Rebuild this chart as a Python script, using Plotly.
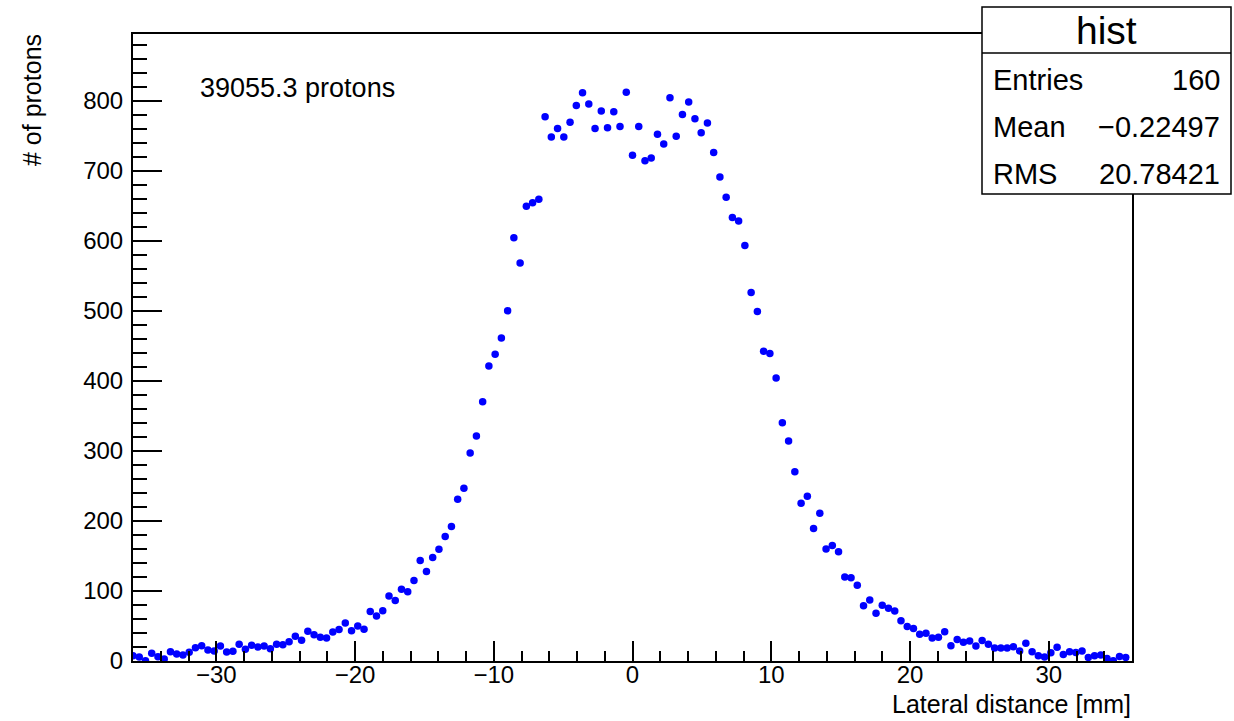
import numpy as np
import plotly.graph_objects as go

# ---- data -------------------------------------------------------------
# 160 entries on a 0.45 mm grid from -36 mm
bin_start = -36.0
bin_width = 0.45
protons = [
    # left tail
    7.6, 5.7, 0.5, 11, 6.2, 2.9, 13.3, 10, 8.6, 12.4,
    19, 21.9, 15.7, 14.3, 21.4, 12.9, 13.8, 23.8, 16.7, 22.4,
    20, 21.4, 17.6, 23.8, 23.3, 27.6, 35.2, 29.5, 42.4, 37.6,
    33.8, 32.9, 41.4, 44.8, 54.3, 43.3, 50, 45.2, 70.5, 64.3,
    71.9, 92.9, 86.2, 102.4, 99, 114.8, 143.3, 127.6, 147.6, 159.5,
    177.6, 191.9, 231, 246.7,
    # rising edge and plateau
    297, 321, 370, 421, 438, 461, 500, 604, 568, 649,
    654, 659, 777, 748, 760, 748, 769, 793, 811, 795,
    760, 785, 761, 784, 763, 812,
    722, 763, 714, 718, 752, 738, 804, 749, 780, 798,
    774, 754, 768, 726, 691, 662, 633, 628, 593, 526,
    499, 442, 439, 404, 340, 314, 270, 225, 235, 189,
    211, 160, 165, 156, 120, 119, 108,
    # right tail
    78.7, 86.9, 68.1, 79.6, 75.3, 71.4, 57.6, 49.3, 46.4, 38.3,
    39.7, 33, 34, 41.6, 21.9, 30.6, 26.7, 28.6, 21.4, 29.1,
    23.9, 18.6, 18.6, 18.6, 20.4, 14.3, 25.3, 13.3, 7.4, 5.6,
    11.9, 19.6, 9.4, 13.3, 12.3, 14.3, 5.1, 7.4, 8.4, 3.6,
    0.3, 6.6, 5.1,
]
positions = bin_start + bin_width * np.arange(len(protons))

x_tick_vals = [-30, -20, -10, 0, 10, 20, 30]
y_tick_vals = [0, 100, 200, 300, 400, 500, 600, 700, 800]

total_label = "39055.3 protons"
stats_title = "hist"
stats_rows = [("Entries", "160"), ("Mean", "\u22120.22497"), ("RMS", "20.78421")]
x_title = "Lateral distance [mm]"
y_title = "# of protons"

# ---- figure -----------------------------------------------------------
FONT = "Liberation Sans, Arial, Helvetica, sans-serif"
W, H = 1234, 721
L, R, T, B = 133, 102, 34, 60
PW, PH = W - L - R, H - T - B


def px2x(px):
    return (px - L) / PW


def py2y(py):
    return (H - B - py) / PH


fig = go.Figure()
fig.add_trace(go.Scatter(
    x=positions, y=protons, mode="markers",
    marker=dict(color="#0000ff", size=7.5, line=dict(width=0)),
    showlegend=False, hoverinfo="x+y",
))

axis_common = dict(
    showgrid=False, zeroline=False, showline=True, linecolor="black",
    linewidth=2, mirror=True, ticks="inside", tickcolor="black",
    tickwidth=1.5, tickfont=dict(family=FONT, size=24, color="black"),
)

fig.update_xaxes(
    range=[-36, 36], tickmode="array", tickvals=x_tick_vals,
    ticklen=20, ticklabelstandoff=-9,
    minor=dict(dtick=2, tick0=0, ticklen=10, ticks="inside",
               tickcolor="black", tickwidth=1.5, showgrid=False),
    **axis_common,
)
fig.update_yaxes(
    range=[0, 895], tickmode="array", tickvals=y_tick_vals,
    ticklen=29, ticklabelstandoff=3,
    minor=dict(dtick=20, tick0=0, ticklen=14, ticks="inside",
               tickcolor="black", tickwidth=1.5, showgrid=False),
    **axis_common,
)

annotations = [
    dict(text=total_label, x=px2x(199), y=py2y(88), xanchor="left",
         yanchor="middle", font=dict(family=FONT, size=27, color="black")),
    dict(text=x_title, x=1.0, y=py2y(704), xanchor="right", yanchor="middle",
         font=dict(family=FONT, size=25, color="black")),
    dict(text=y_title, x=px2x(32), y=py2y(33), xanchor="center",
         yanchor="top", textangle=-90,
         font=dict(family=FONT, size=25, color="black")),
    dict(text=stats_title, x=px2x(1106.5), y=py2y(30), xanchor="center",
         yanchor="middle", font=dict(family=FONT, size=39, color="black")),
]
row_y = [80, 127, 174]
for (lab, val), yy in zip(stats_rows, row_y):
    annotations.append(dict(text=lab, x=px2x(992), y=py2y(yy), xanchor="left",
                            yanchor="middle",
                            font=dict(family=FONT, size=29, color="black")))
    annotations.append(dict(text=val, x=px2x(1221), y=py2y(yy),
                            xanchor="right", yanchor="middle",
                            font=dict(family=FONT, size=29, color="black")))
for a in annotations:
    a.update(xref="paper", yref="paper", showarrow=False, borderpad=0)

shapes = [
    dict(type="rect", xref="paper", yref="paper",
         x0=px2x(982), x1=px2x(1231), y0=py2y(194), y1=py2y(7),
         line=dict(color="black", width=1.5), fillcolor="white",
         layer="above"),
    dict(type="line", xref="paper", yref="paper",
         x0=px2x(982), x1=px2x(1231), y0=py2y(53), y1=py2y(53),
         line=dict(color="black", width=1.5), layer="above"),
]

fig.update_layout(
    width=W, height=H, margin=dict(l=L, r=R, t=T, b=B, pad=0),
    paper_bgcolor="white", plot_bgcolor="white",
    annotations=annotations, shapes=shapes,
    font=dict(family=FONT, color="black"),
)

fig.write_html("out.html")
